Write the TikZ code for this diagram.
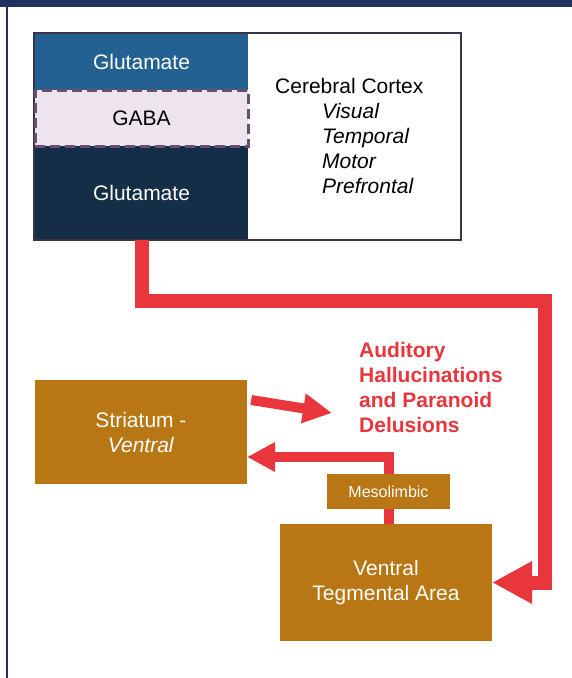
\documentclass[tikz,border=0pt]{standalone}
\usepackage{fontspec}
\setmainfont{Liberation Sans}
\usetikzlibrary{arrows.meta}
\definecolor{framenavy}{HTML}{22305F}
\definecolor{glublue}{HTML}{236192}
\definecolor{gludark}{HTML}{142E48}
\definecolor{gabafill}{HTML}{EDE4EE}
\definecolor{gabaline}{HTML}{6B4D72}
\definecolor{cortexline}{HTML}{3B3345}
\definecolor{nucleus}{HTML}{B97614}
\definecolor{pathred}{HTML}{E8363C}
\begin{document}
\begin{tikzpicture}[x=1pt,y=-1pt,
  every node/.style={font=\fontsize{21}{25}\selectfont, inner sep=0pt},
  layer/.style={minimum width=213pt, text=white},
  nucleusbox/.style={fill=nucleus, text=white, align=center, minimum width=212pt},
  redpath/.style={draw=pathred, line join=miter}]
  \useasboundingbox (0,0) rectangle (572,678);
  % frame
  \fill[framenavy] (0,0) rectangle (572,7);
  \fill[framenavy] (5.5,0) rectangle (8,678);

  % cortex layers
  \node[layer, fill=glublue, minimum height=56pt] (glutop) at (141.5,62) {Glutamate};
  \node[layer, fill=gludark, minimum height=94pt] (glubottom) at (141.5,193) {Glutamate};
  \node[draw=cortexline, line width=1.5pt, minimum width=427pt, minimum height=207pt] (cortex) at (247.5,136.5) {};
  \node[layer, fill=gabafill, draw=gabaline, dash pattern=on 10pt off 5pt, line width=3pt,
    text=black, minimum height=56pt] (gaba) at (141.5,118) {GABA};
  \node[anchor=north west, align=left] (cortexlabel) at (275,78)
    {Cerebral Cortex\\ \hspace*{47pt}\textit{Visual}\\ \hspace*{47pt}\textit{Temporal}\\
     \hspace*{47pt}\textit{Motor}\\ \hspace*{47pt}\textit{Prefrontal}};

  % nuclei
  \node[nucleusbox, minimum height=104pt] (striatum) at (141,432) {Striatum -\\\textit{Ventral}};
  \node[nucleusbox, minimum height=117pt] (vta) at (386,582.5) {Ventral\\Tegmental Area};
  \node[nucleusbox, minimum width=123pt, minimum height=35pt, font=\fontsize{16}{19}\selectfont]
    (meso) at (388.5,491.5) {Mesolimbic};
  \node[anchor=north west, align=left, text=pathred, font=\fontsize{21}{25}\selectfont\bfseries]
    (halluc) at (359,342) {Auditory\\Hallucinations\\and Paranoid\\Delusions};

  % pathways
  \coordinate (cortexbend) at (545,301);
  \draw[redpath, line width=14pt, -{Triangle[length=40pt,width=40pt]}]
    (glubottom.south) |- (cortexbend) |- (vta.east);
  \coordinate (mesoturn) at (388.5,457);
  \draw[redpath, line width=10pt] (meso.south |- vta.north) -- (meso.south);
  \draw[redpath, line width=10pt, -{Triangle[length=28pt,width=28pt]}]
    (meso.north) -- (mesoturn) -- (mesoturn -| striatum.east);
  \coordinate (halluctip) at (332,413);
  \draw[redpath, line width=10pt, -{Triangle[length=29pt,width=28pt]}]
    ([shift={(4,-32)}]striatum.east) -- (halluctip);
\end{tikzpicture}
\end{document}
